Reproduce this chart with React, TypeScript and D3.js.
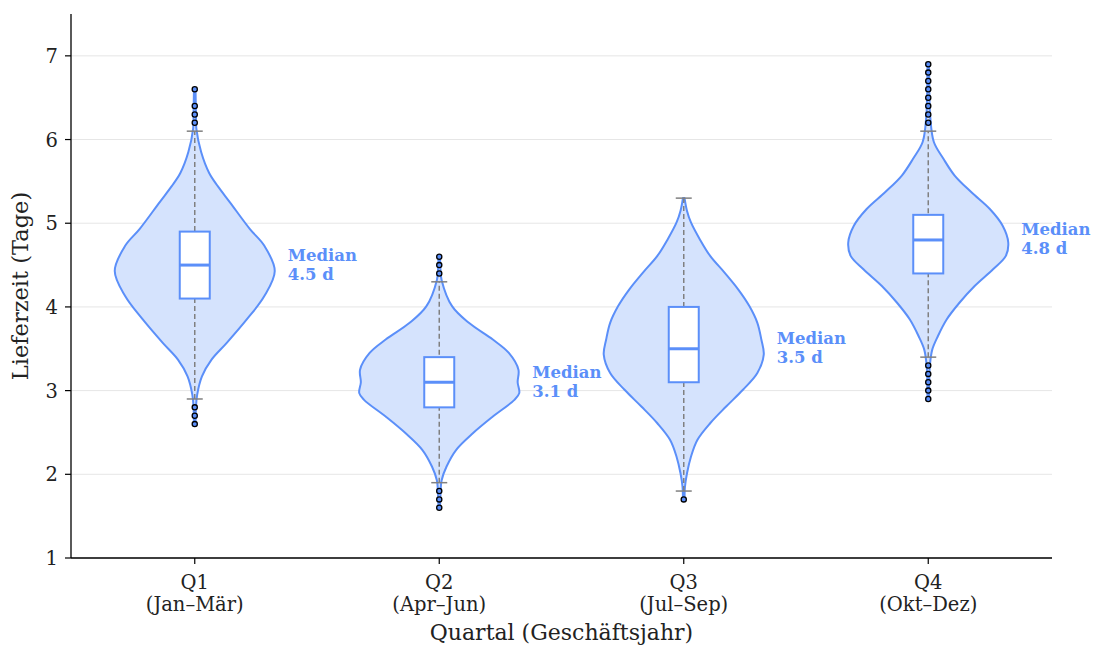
import React from 'react';
import * as d3 from 'd3';

// Quartale und Beschriftungen
const quarters = ['Q1', 'Q2', 'Q3', 'Q4'];
const quarterRanges = ['(Jan–Mär)', '(Apr–Jun)', '(Jul–Sep)', '(Okt–Dez)'];
const yTicks = [1, 2, 3, 4, 5, 6, 7];

// Violin-Profile: [Lieferzeit, relative Dichte]
const violinQ1 = [
  [6.6, 0.01], [6.3, 0.015], [6.13, 0.02], [5.85, 0.08], [5.6, 0.18], [5.44, 0.29], [5.25, 0.44],
  [4.93, 0.69], [4.73, 0.87], [4.43, 1.0], [4.13, 0.87], [3.85, 0.65],
  [3.57, 0.4], [3.37, 0.21], [3.17, 0.09], [2.95, 0.03], [2.8, 0.015], [2.6, 0.01],
];
const violinQ2 = [
  [4.6, 0.01], [4.45, 0.015], [4.32, 0.03], [4.01, 0.16], [3.81, 0.37], [3.61, 0.67],
  [3.45, 0.87], [3.25, 0.99], [3.1, 0.98], [2.97, 1.0], [2.89, 0.94],
  [2.69, 0.67], [2.49, 0.42], [2.29, 0.21], [2.09, 0.09], [1.93, 0.03], [1.75, 0.015], [1.6, 0.01],
];
const violinQ3 = [
  [5.3, 0.01], [5.15, 0.04], [5.01, 0.09], [4.81, 0.2], [4.61, 0.33], [4.41, 0.51],
  [4.21, 0.68], [4.01, 0.82], [3.81, 0.92], [3.61, 0.97], [3.43, 1.0],
  [3.21, 0.92], [3.01, 0.74], [2.81, 0.53], [2.61, 0.33], [2.41, 0.17],
  [2.21, 0.09], [2.01, 0.04], [1.85, 0.015], [1.7, 0.01],
];
const violinQ4 = [
  [6.9, 0.01], [6.5, 0.015], [6.27, 0.025], [5.97, 0.07], [5.77, 0.19], [5.57, 0.33],
  [5.37, 0.54], [5.17, 0.77], [4.97, 0.93], [4.77, 1.0], [4.61, 0.97],
  [4.45, 0.81], [4.25, 0.58], [4.05, 0.39], [3.85, 0.23], [3.65, 0.12],
  [3.49, 0.05], [3.3, 0.02], [3.1, 0.012], [2.9, 0.01],
];
const violins = [violinQ1, violinQ2, violinQ3, violinQ4];

// Boxplot-Kennzahlen
const medians = [4.5, 3.1, 3.5, 4.8];
const lowerQuartiles = [4.1, 2.8, 3.1, 4.4];
const upperQuartiles = [4.9, 3.4, 4.0, 5.1];
const whiskerLow = [2.9, 1.9, 1.8, 3.4];
const whiskerHigh = [6.1, 4.3, 5.3, 6.1];

// Ausreißer
const outliersQ1 = [6.6, 6.4, 6.3, 6.2, 2.8, 2.7, 2.6];
const outliersQ2 = [4.6, 4.5, 4.4, 1.8, 1.7, 1.6];
const outliersQ3 = [1.7];
const outliersQ4 = [6.9, 6.8, 6.7, 6.6, 6.5, 6.4, 6.3, 6.2, 3.3, 3.2, 3.1, 3.0, 2.9];
const outliers = [outliersQ1, outliersQ2, outliersQ3, outliersQ4];

const BLUE = '#5b8ff9';
const FILL = '#d5e3fd';
const FONT = '"DejaVu Serif", serif';

export default function App() {
  const width = 1094;
  const height = 646;
  const left = 71, right = 1052, top = 14, bottom = 558;

  const x = d3.scalePoint<string>().domain(quarters).range([72.5, 1050.5]).padding(0.5);
  const y = d3.scaleLinear().domain([1, 7.5]).range([bottom, top]);

  const violinHalf = 80;
  const boxHalf = 15;
  const capHalf = 8;

  return (
    <svg width={width} height={height} style={{ position: 'absolute', left: 0, top: 0, fontFamily: FONT }}>
      <rect width={width} height={height} fill="#fff" />

      {/* Gitterlinien */}
      {yTicks.map(t => (
        <line key={'g' + t} x1={left} x2={right} y1={y(t)} y2={y(t)} stroke="#e6e6e6" strokeWidth={1} />
      ))}

      {quarters.map((q, i) => {
        const cx = x(q) as number;
        const area = d3.area<number[]>()
          .y(d => y(d[0]))
          .x0(d => cx - d[1] * violinHalf)
          .x1(d => cx + d[1] * violinHalf)
          .curve(d3.curveCatmullRom.alpha(0.5));
        return (
          <g key={q}>
            <path d={area(violins[i]) || ''} fill={FILL} stroke={BLUE} strokeWidth={2} strokeLinejoin="round" />
            <line x1={cx} x2={cx} y1={y(whiskerLow[i])} y2={y(whiskerHigh[i])} stroke="#808080" strokeWidth={1.5} strokeDasharray="5,3" />
            <line x1={cx - capHalf} x2={cx + capHalf} y1={y(whiskerLow[i])} y2={y(whiskerLow[i])} stroke="#808080" strokeWidth={1.5} />
            <line x1={cx - capHalf} x2={cx + capHalf} y1={y(whiskerHigh[i])} y2={y(whiskerHigh[i])} stroke="#808080" strokeWidth={1.5} />
            <rect x={cx - boxHalf} y={y(upperQuartiles[i])} width={boxHalf * 2}
              height={y(lowerQuartiles[i]) - y(upperQuartiles[i])} fill="#fff" stroke={BLUE} strokeWidth={2} />
            <line x1={cx - boxHalf} x2={cx + boxHalf} y1={y(medians[i])} y2={y(medians[i])} stroke={BLUE} strokeWidth={3} />
            {outliers[i].map((v, k) => (
              <circle key={k} cx={cx} cy={y(v)} r={2.6} fill={BLUE} stroke="#000" strokeWidth={1.3} />
            ))}
            <text x={cx + 93} y={y(medians[i]) - 4.5} fill={BLUE} fontWeight="bold" fontSize={16.5}>Median</text>
            <text x={cx + 93} y={y(medians[i]) + 14.5} fill={BLUE} fontWeight="bold" fontSize={16.5}>{medians[i].toFixed(1)} d</text>
          </g>
        );
      })}

      {/* Achsen */}
      <line x1={left} x2={left} y1={top} y2={bottom} stroke="#000" strokeWidth={1.3} />
      <line x1={left} x2={right} y1={bottom} y2={bottom} stroke="#000" strokeWidth={1.3} />
      {yTicks.map(t => (
        <g key={'t' + t}>
          <line x1={left - 6} x2={left} y1={y(t)} y2={y(t)} stroke="#000" strokeWidth={1.2} />
          <text x={left - 13} y={y(t)} dy="0.36em" textAnchor="end" fontSize={19.5} fill="#222">{t}</text>
        </g>
      ))}
      {quarters.map((q, i) => {
        const cx = x(q) as number;
        return (
          <g key={'x' + q}>
            <line x1={cx} x2={cx} y1={bottom} y2={bottom + 6} stroke="#000" strokeWidth={1.2} />
            <text x={cx} y={589} textAnchor="middle" fontSize={19.5} fill="#222">{q}</text>
            <text x={cx} y={611} textAnchor="middle" fontSize={19.5} fill="#222">{quarterRanges[i]}</text>
          </g>
        );
      })}
      <text x={(left + right) / 2} y={640} textAnchor="middle" fontSize={22} fill="#222">Quartal (Geschäftsjahr)</text>
      <text transform={`translate(28,${(top + bottom) / 2}) rotate(-90)`} textAnchor="middle" fontSize={22.5} fill="#222">Lieferzeit (Tage)</text>
    </svg>
  );
}
